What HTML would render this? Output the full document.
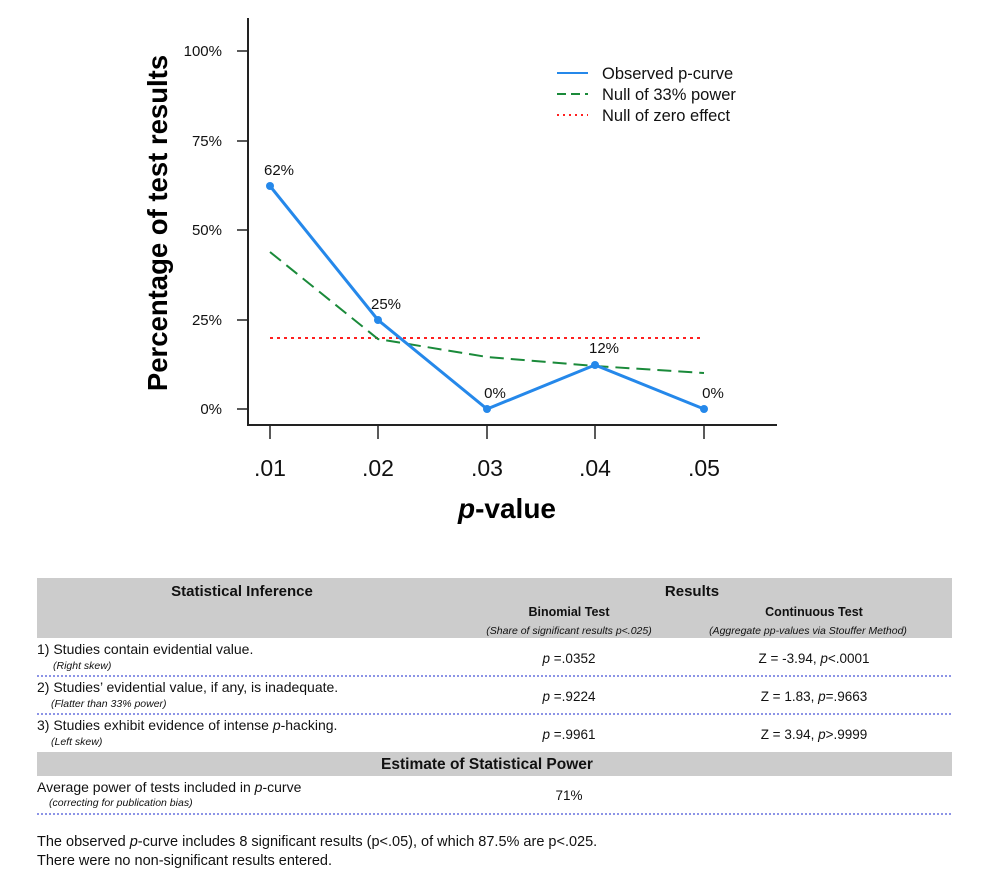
<!DOCTYPE html>
<html><head><meta charset="utf-8"><style>
body{margin:0;background:#fff;width:989px;height:880px;overflow:hidden}
svg{position:absolute;left:0;top:0}
</style></head><body>
<svg width="989" height="880" xmlns="http://www.w3.org/2000/svg" font-family="Liberation Sans, sans-serif">
<line x1="248" y1="18" x2="248" y2="425" stroke="#222" stroke-width="2"/>
<line x1="247" y1="425" x2="777" y2="425" stroke="#222" stroke-width="2"/>
<g stroke="#222" stroke-width="1.5">
<line x1="237" y1="51" x2="248" y2="51"/><line x1="237" y1="141" x2="248" y2="141"/>
<line x1="237" y1="230" x2="248" y2="230"/><line x1="237" y1="320" x2="248" y2="320"/>
<line x1="237" y1="409" x2="248" y2="409"/>
<line x1="270" y1="425" x2="270" y2="439"/><line x1="378" y1="425" x2="378" y2="439"/>
<line x1="487" y1="425" x2="487" y2="439"/><line x1="595" y1="425" x2="595" y2="439"/>
<line x1="704" y1="425" x2="704" y2="439"/>
</g>
<g font-size="15" text-anchor="end" fill="#111">
<text x="222" y="56">100%</text><text x="222" y="146">75%</text><text x="222" y="235">50%</text>
<text x="222" y="325">25%</text><text x="222" y="414">0%</text>
</g>
<g font-size="23" text-anchor="middle" fill="#111">
<text x="270" y="476">.01</text><text x="378" y="476">.02</text><text x="487" y="476">.03</text>
<text x="595" y="476">.04</text><text x="704" y="476">.05</text>
</g>
<text x="507" y="518" font-size="28" font-weight="bold" text-anchor="middle"><tspan font-style="italic">p</tspan>-value</text>
<text transform="translate(167,223) rotate(-90)" font-size="27.5" font-weight="bold" text-anchor="middle">Percentage of test results</text>
<line x1="270" y1="338" x2="704" y2="338" stroke="#ff2020" stroke-width="2" stroke-dasharray="3,4"/>
<polyline points="270,252 378,339 487,357 595,366 704,373" fill="none" stroke="#1a8a3a" stroke-width="2" stroke-dasharray="14,7"/>
<polyline points="270,186 378,320 487,409 595,365 704,409" fill="none" stroke="#2588ea" stroke-width="3"/>
<g fill="#2588ea"><circle cx="270" cy="186" r="4"/><circle cx="378" cy="320" r="4"/><circle cx="487" cy="409" r="4"/><circle cx="595" cy="365" r="4"/><circle cx="704" cy="409" r="4"/></g>
<g font-size="15" text-anchor="middle" fill="#111">
<text x="279" y="175">62%</text><text x="386" y="309">25%</text><text x="495" y="398">0%</text>
<text x="604" y="353">12%</text><text x="713" y="398">0%</text>
</g>
<line x1="557" y1="73" x2="588" y2="73" stroke="#2588ea" stroke-width="2"/>
<line x1="557" y1="94" x2="588" y2="94" stroke="#1a8a3a" stroke-width="2" stroke-dasharray="9,5"/>
<line x1="557" y1="115" x2="588" y2="115" stroke="#ff2020" stroke-width="2" stroke-dasharray="2,4"/>
<g font-size="16.5" fill="#111">
<text x="602" y="79">Observed p-curve</text><text x="602" y="100">Null of 33% power</text><text x="602" y="121">Null of zero effect</text>
</g>
<rect x="37" y="578" width="915" height="60" fill="#cccccc"/>
<rect x="37" y="752" width="915" height="24" fill="#cccccc"/>
<g stroke="#1a2acc" stroke-width="1" stroke-dasharray="2,2">
<line x1="37" y1="676" x2="952" y2="676"/><line x1="37" y1="714" x2="952" y2="714"/><line x1="37" y1="814" x2="952" y2="814"/>
</g>
<g fill="#111">
<text x="242" y="596" font-size="15" font-weight="bold" text-anchor="middle">Statistical Inference</text>
<text x="692" y="596" font-size="15" font-weight="bold" text-anchor="middle">Results</text>
<text x="569" y="616" font-size="12.5" font-weight="bold" text-anchor="middle">Binomial Test</text>
<text x="814" y="616" font-size="12.5" font-weight="bold" text-anchor="middle">Continuous Test</text>
<text x="569" y="634" font-size="10.5" font-style="italic" text-anchor="middle">(Share of significant results p&lt;.025)</text>
<text x="808" y="634" font-size="10.5" font-style="italic" text-anchor="middle">(Aggregate pp-values via Stouffer Method)</text>
<g font-size="14">
<text x="37" y="654">1) Studies contain evidential value.</text>
<text x="37" y="692">2) Studies’ evidential value, if any, is inadequate.</text>
<text x="37" y="730">3) Studies exhibit evidence of intense <tspan font-style="italic">p</tspan>-hacking.</text>
<text x="37" y="792">Average power of tests included in <tspan font-style="italic">p</tspan>-curve</text>
</g>
<g font-size="10.5" font-style="italic">
<text x="53" y="669">(Right skew)</text><text x="51" y="707">(Flatter than 33% power)</text>
<text x="51" y="745">(Left skew)</text><text x="49" y="806">(correcting for publication bias)</text>
</g>
<g font-size="13.5" text-anchor="middle">
<text x="569" y="663"><tspan font-style="italic">p</tspan> =.0352</text>
<text x="814" y="663">Z = -3.94, <tspan font-style="italic">p</tspan>&lt;.0001</text>
<text x="569" y="701"><tspan font-style="italic">p</tspan> =.9224</text>
<text x="814" y="701">Z = 1.83, <tspan font-style="italic">p</tspan>=.9663</text>
<text x="569" y="739"><tspan font-style="italic">p</tspan> =.9961</text>
<text x="814" y="739">Z = 3.94, <tspan font-style="italic">p</tspan>&gt;.9999</text>
<text x="569" y="800">71%</text>
</g>
<text x="487" y="769" font-size="15.5" font-weight="bold" text-anchor="middle">Estimate of Statistical Power</text>
<g font-size="14.5">
<text x="37" y="846">The observed <tspan font-style="italic">p</tspan>-curve includes 8 significant results (p&lt;.05), of which 87.5% are p&lt;.025.</text>
<text x="37" y="865">There were no non-significant results entered.</text>
</g>
</g>
</svg>
</body></html>
